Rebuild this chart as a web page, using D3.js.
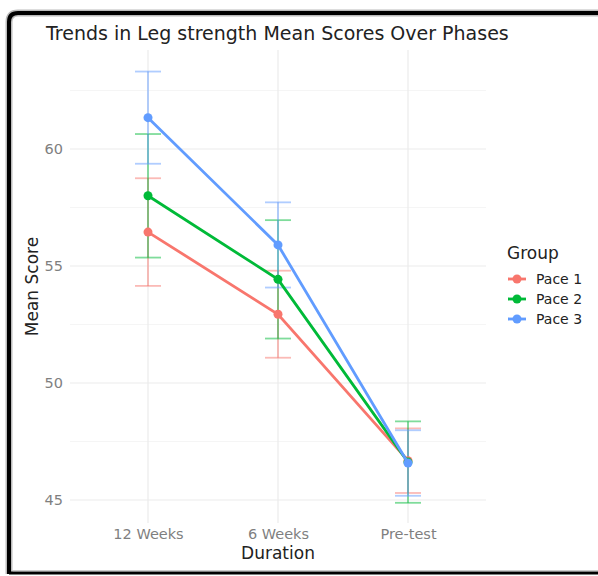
<!DOCTYPE html>
<html>
<head>
<meta charset="utf-8">
<script src="https://cdn.jsdelivr.net/npm/d3@7"></script>
<style>
  body { margin: 0; background: #fff; }
  text { font-family: "DejaVu Sans", sans-serif; }
</style>
</head>
<body>
<div id="viz"></div>
<script>
'use strict';

const width = 598;
const height = 576;

// data
const phases = ["12 Weeks", "6 Weeks", "Pre-test"];
const groups = ["Pace 1", "Pace 2", "Pace 3"];
const colors = ["#F8766D", "#00BA38", "#619CFF"];
const pace1Mean = [56.45, 52.94, 46.68];
const pace1Err = [2.30, 1.86, 1.38];
const pace2Mean = [58.00, 54.43, 46.62];
const pace2Err = [2.64, 2.53, 1.74];
const pace3Mean = [61.34, 55.90, 46.58];
const pace3Err = [1.97, 1.82, 1.40];
const yTicks = [45, 50, 55, 60];
const yMinor = [47.5, 52.5, 57.5, 62.5];

const series = [
    { name: groups[0], color: colors[0], mean: pace1Mean, err: pace1Err },
    { name: groups[1], color: colors[1], mean: pace2Mean, err: pace2Err },
    { name: groups[2], color: colors[2], mean: pace3Mean, err: pace3Err }
];

const panel = { left: 70, right: 486, top: 50, bottom: 523 };

const svg = d3.select("#viz")
    .append("svg")
    .attr("width", width)
    .attr("height", height);

// frame round the picture
svg.append("path")
    .attr("d", "M9,574 L9,22 Q9,13 18,13 L598,13")
    .attr("fill", "none")
    .attr("stroke", "#bbb")
    .attr("stroke-width", 7);
svg.append("path")
    .attr("d", "M9,574 L9,22 Q9,13 18,13 L598,13")
    .attr("fill", "none")
    .attr("stroke", "#000")
    .attr("stroke-width", 4);
svg.append("line")
    .attr("x1", 9).attr("x2", 598)
    .attr("y1", 573).attr("y2", 573)
    .attr("stroke", "#000")
    .attr("stroke-width", 3);
svg.append("line")
    .attr("x1", 12).attr("x2", 598)
    .attr("y1", 570.5).attr("y2", 570.5)
    .attr("stroke", "#ccc")
    .attr("stroke-width", 1);

let x = d3.scalePoint()
    .domain(phases)
    .range([panel.left, panel.right])
    .padding(0.6);

let y = d3.scaleLinear()
    .domain([45 - 23 / 23.4, 45 + 450 / 23.4])
    .range([panel.bottom, panel.top]);

const step = x.step();

// grid
const grid = svg.append("g");
grid.selectAll(".minor")
    .data(yMinor)
    .enter()
    .append("line")
    .attr("x1", panel.left).attr("x2", panel.right)
    .attr("y1", d => y(d)).attr("y2", d => y(d))
    .attr("stroke", "#f2f2f2")
    .attr("stroke-width", 0.8);
grid.selectAll(".major")
    .data(yTicks)
    .enter()
    .append("line")
    .attr("x1", panel.left).attr("x2", panel.right)
    .attr("y1", d => y(d)).attr("y2", d => y(d))
    .attr("stroke", "#ebebeb")
    .attr("stroke-width", 1.2);
grid.selectAll(".vert")
    .data(phases)
    .enter()
    .append("line")
    .attr("x1", d => x(d)).attr("x2", d => x(d))
    .attr("y1", panel.top).attr("y2", panel.bottom)
    .attr("stroke", "#ebebeb")
    .attr("stroke-width", 1.2);

// axes (no lines, only labels)
const yAxis = svg.append("g")
    .attr("transform", `translate(${panel.left},0)`)
    .call(d3.axisLeft(y).tickValues(yTicks).tickSize(0).tickPadding(7));
yAxis.select(".domain").remove();
yAxis.selectAll("text")
    .attr("fill", "#7f7f7f")
    .style("font-size", "14.5px")
    .style("font-family", "DejaVu Sans");

const xAxis = svg.append("g")
    .attr("transform", `translate(0,${panel.bottom})`)
    .call(d3.axisBottom(x).tickSize(0).tickPadding(6));
xAxis.select(".domain").remove();
xAxis.selectAll("text")
    .attr("fill", "#7f7f7f")
    .style("font-size", "14.5px")
    .style("font-family", "DejaVu Sans");

// error bars
series.forEach(s => {
    const g = svg.append("g")
        .attr("stroke", s.color)
        .attr("stroke-opacity", 0.5)
        .attr("stroke-width", 1.8);
    g.selectAll(".stem")
        .data(phases)
        .enter()
        .append("line")
        .attr("x1", d => x(d)).attr("x2", d => x(d))
        .attr("y1", (d, i) => y(s.mean[i] - s.err[i]))
        .attr("y2", (d, i) => y(s.mean[i] + s.err[i]));
    g.selectAll(".capTop")
        .data(phases)
        .enter()
        .append("line")
        .attr("x1", d => x(d) - step * 0.1).attr("x2", d => x(d) + step * 0.1)
        .attr("y1", (d, i) => y(s.mean[i] + s.err[i]))
        .attr("y2", (d, i) => y(s.mean[i] + s.err[i]));
    g.selectAll(".capBot")
        .data(phases)
        .enter()
        .append("line")
        .attr("x1", d => x(d) - step * 0.1).attr("x2", d => x(d) + step * 0.1)
        .attr("y1", (d, i) => y(s.mean[i] - s.err[i]))
        .attr("y2", (d, i) => y(s.mean[i] - s.err[i]));
});

// lines and points
const line = d3.line()
    .x(d => x(d.phase))
    .y(d => y(d.value));

series.forEach(s => {
    const pts = phases.map((p, i) => ({ phase: p, value: s.mean[i] }));
    svg.append("path")
        .datum(pts)
        .attr("fill", "none")
        .attr("stroke", s.color)
        .attr("stroke-width", 2.8)
        .attr("d", line);
    svg.append("g").selectAll("circle")
        .data(pts)
        .enter()
        .append("circle")
        .attr("cx", d => x(d.phase))
        .attr("cy", d => y(d.value))
        .attr("r", 4.5)
        .attr("fill", s.color);
});

// titles
svg.append("text")
    .attr("x", 46)
    .attr("y", 40)
    .attr("fill", "#222")
    .style("font-size", "19px")
    .text("Trends in Leg strength Mean Scores Over Phases");

svg.append("text")
    .attr("x", x(phases[1]))
    .attr("y", 559)
    .attr("text-anchor", "middle")
    .attr("fill", "#222")
    .style("font-size", "17px")
    .text("Duration");

svg.append("text")
    .attr("transform", `translate(38,${(panel.top + panel.bottom) / 2}) rotate(-90)`)
    .attr("text-anchor", "middle")
    .attr("fill", "#222")
    .style("font-size", "17px")
    .text("Mean Score");

// legend
const legend = svg.append("g")
    .attr("transform", "translate(506,0)");
legend.append("text")
    .attr("x", 1)
    .attr("y", 259)
    .attr("fill", "#222")
    .style("font-size", "17px")
    .text("Group");
const items = legend.selectAll(".item")
    .data(series)
    .enter()
    .append("g")
    .attr("transform", (d, i) => `translate(0,${279 + i * 20})`);
items.append("line")
    .attr("x1", 2).attr("x2", 20)
    .attr("y1", 0).attr("y2", 0)
    .attr("stroke", d => d.color)
    .attr("stroke-width", 2.8);
items.append("circle")
    .attr("cx", 11).attr("cy", 0)
    .attr("r", 4.5)
    .attr("fill", d => d.color);
items.append("text")
    .attr("x", 30)
    .attr("y", 0)
    .attr("dy", "0.35em")
    .attr("fill", "#222")
    .style("font-size", "14px")
    .text(d => d.name);
</script>
</body>
</html>
